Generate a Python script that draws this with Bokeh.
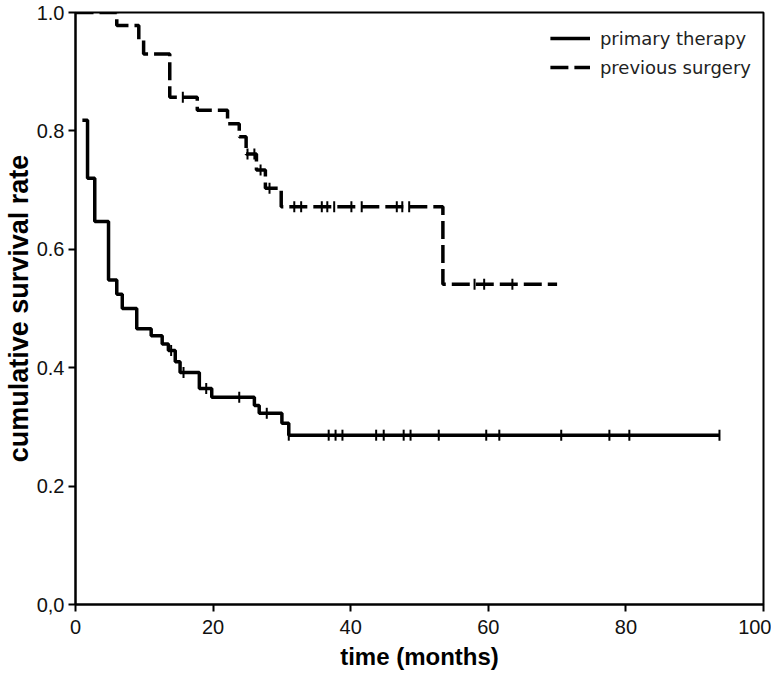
import math
import numpy as np
from bokeh.plotting import figure
from bokeh.models import Legend, LegendItem, FixedTicker, CustomJSTickFormatter
from bokeh.embed import file_html
from bokeh.resources import INLINE

# ---- data ----
primary_t = [1.0, 1.75, 2.8, 4.8, 6.0, 6.8, 8.9, 11.0, 12.6, 13.5, 14.5, 15.2, 18.0, 19.8, 26.0, 26.7, 30.0, 31.0]
primary_s = [0.818, 0.72, 0.647, 0.548, 0.524, 0.50, 0.466, 0.454, 0.44, 0.429, 0.41, 0.392, 0.365, 0.35, 0.336, 0.323, 0.306, 0.286]
primary_end = 93.6
primary_cens = [13.9, 15.7, 19.0, 23.8, 27.8, 31.0, 36.8, 37.8, 38.8, 43.7, 44.8, 47.7, 48.7, 52.8, 59.7, 61.6, 70.6, 77.6, 80.5, 93.6]

surgery_t = [0.0, 6.0, 9.2, 9.9, 13.7, 17.7, 22.1, 23.8, 24.8, 26.3, 27.6, 29.9, 53.4]
surgery_s = [1.0, 0.978, 0.953, 0.93, 0.857, 0.835, 0.812, 0.79, 0.761, 0.734, 0.703, 0.672, 0.541]
surgery_end = 70.0
surgery_cens = [15.6, 25.0, 26.0, 26.9, 28.2, 31.8, 32.8, 35.8, 36.6, 37.6, 40.1, 41.6, 46.7, 47.5, 48.5, 58.0, 59.4, 63.5]

x_ticks = [0, 20, 40, 60, 80, 100]
y_ticks = [0.0, 0.2, 0.4, 0.6, 0.8, 1.0]
y_tick_labels = ["0,0", "0.2", "0.4", "0.6", "0.8", "1.0"]

labels = ["primary therapy", "previous surgery"]


def level_at(ts, ss, x):
    idx = np.searchsorted(np.array(ts), np.array(x), side="right") - 1
    return [ss[i] for i in idx]


p = figure(frame_width=688, frame_height=592, x_range=(0, 100), y_range=(0, 1.0),
           output_backend="svg", toolbar_location=None,
           min_border_left=68, min_border_right=8, min_border_top=12, min_border_bottom=66)

p.xgrid.visible = False
p.ygrid.visible = False
p.outline_line_color = "black"
p.outline_line_width = 2
p.background_fill_color = "white"
p.border_fill_color = "white"

r1 = p.step(x=primary_t + [primary_end], y=primary_s + [primary_s[-1]], mode="after",
            line_color="black", line_width=3.5)
r2 = p.step(x=surgery_t + [surgery_end], y=surgery_s + [surgery_s[-1]], mode="after",
            line_color="black", line_width=3.5, line_dash="18 6")

p.scatter(x=primary_cens, y=level_at(primary_t, primary_s, primary_cens), marker="dash",
          angle=math.pi / 2, size=11, line_color="black", line_width=2)
p.scatter(x=surgery_cens, y=level_at(surgery_t, surgery_s, surgery_cens), marker="dash",
          angle=math.pi / 2, size=11, line_color="black", line_width=2)

for ax in (p.xaxis[0], p.yaxis[0]):
    ax.axis_line_width = 2
    ax.axis_line_color = "black"
    ax.major_tick_line_width = 2
    ax.major_tick_line_color = "black"
    ax.major_tick_out = 7
    ax.major_tick_in = 0
    ax.minor_tick_line_color = None
    ax.major_label_text_color = "#111111"
    ax.major_label_text_font = "Liberation Sans"
    ax.axis_label_text_font = "Liberation Sans"
    ax.axis_label_text_font_style = "bold"
    ax.axis_label_text_color = "black"

p.xaxis.ticker = FixedTicker(ticks=x_ticks)
p.yaxis.ticker = FixedTicker(ticks=y_ticks)
p.yaxis.formatter = CustomJSTickFormatter(args=dict(vals=y_ticks, labs=y_tick_labels), code="""
    for (let i = 0; i < vals.length; i++) { if (Math.abs(tick - vals[i]) < 1e-6) return labs[i]; }
    return tick.toFixed(1);
""")
p.xaxis.major_label_text_font_size = "20px"
p.yaxis.major_label_text_font_size = "20px"
p.xaxis.major_label_standoff = 8
p.yaxis.major_label_standoff = 4
p.xaxis.axis_label = "time (months)"
p.yaxis.axis_label = "cumulative survival rate"
p.xaxis.axis_label_text_font_size = "24px"
p.yaxis.axis_label_text_font_size = "27px"
p.xaxis.axis_label_standoff = 6
p.yaxis.axis_label_standoff = 0

legend = Legend(items=[LegendItem(label=labels[0], renderers=[r1]),
                       LegendItem(label=labels[1], renderers=[r2])],
                location="top_right", border_line_alpha=0, background_fill_alpha=0,
                glyph_width=40, glyph_height=28, label_height=28, spacing=1,
                label_text_font="DejaVu Sans", label_text_font_size="18px",
                label_text_color="#222222", label_standoff=10, margin=10, padding=2)
p.add_layout(legend)

open("out.html", "w").write(file_html(p, INLINE))
